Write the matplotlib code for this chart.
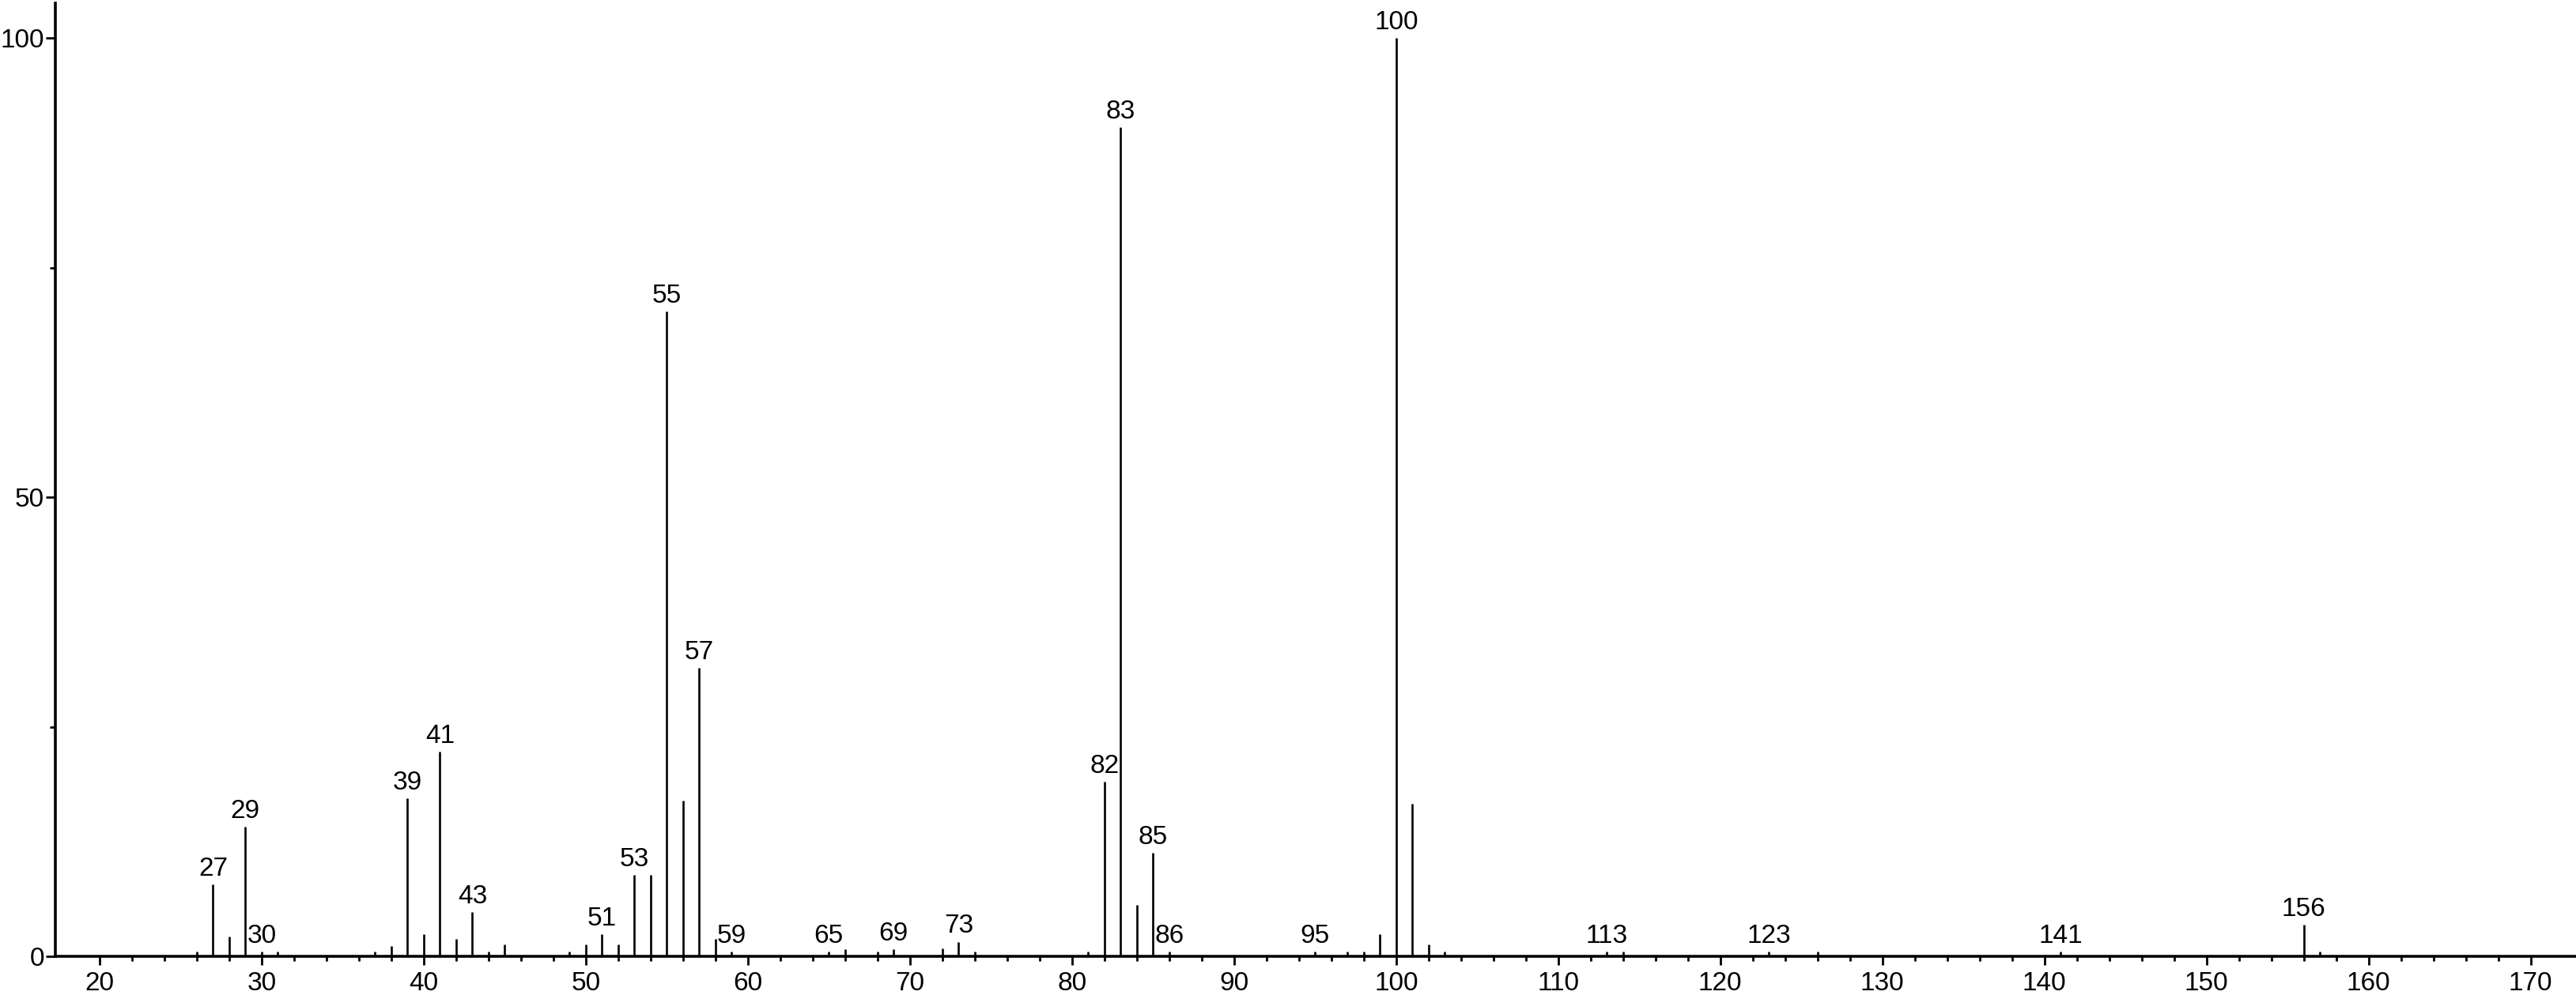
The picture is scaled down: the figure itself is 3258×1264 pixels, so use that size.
import matplotlib
matplotlib.use('Agg')
import matplotlib.pyplot as plt

plt.rcParams['font.family'] = ['Liberation Sans', 'DejaVu Sans']

# m/z 和相对丰度
mz = [26, 27, 28, 29, 30, 31, 37, 38, 39, 40, 41, 42, 43, 44, 45,
      49, 50, 51, 52, 53, 54, 55, 56, 57, 58, 59,
      65, 66, 68, 69, 72, 73, 74, 81, 82, 83, 84, 85, 86,
      95, 97, 98, 99, 100, 101, 102, 103,
      113, 114, 123, 126, 141, 156, 157]
intensity = [0.5, 7.8, 2.15, 14.1, 0.5, 0.5, 0.5, 1.08, 17.2, 2.38, 22.3, 1.87, 4.8, 0.5, 1.33,
             0.5, 1.33, 2.38, 1.33, 8.85, 8.9, 70.2, 16.95, 31.4, 1.87, 0.5,
             0.5, 0.8, 0.5, 0.8, 0.85, 1.58, 0.5, 0.5, 19.0, 90.3, 5.62, 11.25, 0.5,
             0.5, 0.5, 0.5, 2.4, 100.0, 16.6, 1.33, 0.5,
             0.5, 0.5, 0.5, 0.5, 0.5, 3.44, 0.5]
labeled = [27, 29, 30, 39, 41, 43, 51, 53, 55, 57, 59, 65, 69, 73,
           82, 83, 85, 86, 95, 100, 113, 123, 141, 156]

x_major = list(range(20, 171, 10))
x_minor = [v for v in range(22, 169, 2) if v % 10 != 0]
y_major = [0, 50, 100]
y_minor = [25, 75]

W, H = 3258, 1264
fig = plt.figure(figsize=(W / 100, H / 100), dpi=100)
ax = fig.add_axes([70 / W, (H - 1210) / H, (W - 70) / W, (1210 - 4) / H])

ax.vlines(mz, 0, intensity, color='black', linewidth=1.9)

for m, v in zip(mz, intensity):
    if m in labeled:
        ax.annotate(str(m), (m, v), xytext=(0, 3), textcoords='offset points',
                    ha='center', va='bottom', fontsize=24)

ax.set_xlim(17.27, 172.8)
ax.set_ylim(0, 103.8)

ax.set_xticks(x_major)
ax.set_xticks(x_minor, minor=True)
ax.set_yticks(y_major)
ax.set_yticks(y_minor, minor=True)

ax.spines['top'].set_visible(False)
ax.spines['right'].set_visible(False)
ax.spines['left'].set_linewidth(2.6)
ax.spines['bottom'].set_linewidth(2.6)

ax.tick_params(axis='x', which='major', length=8, width=2, labelsize=24, pad=6, direction='out')
ax.tick_params(axis='x', which='minor', length=4, width=2, direction='out')
ax.tick_params(axis='y', which='major', length=9, width=2, labelsize=24, pad=1, direction='out')
ax.tick_params(axis='y', which='minor', length=5, width=2, direction='out')

fig.savefig('out.png', dpi=100, facecolor='white')
